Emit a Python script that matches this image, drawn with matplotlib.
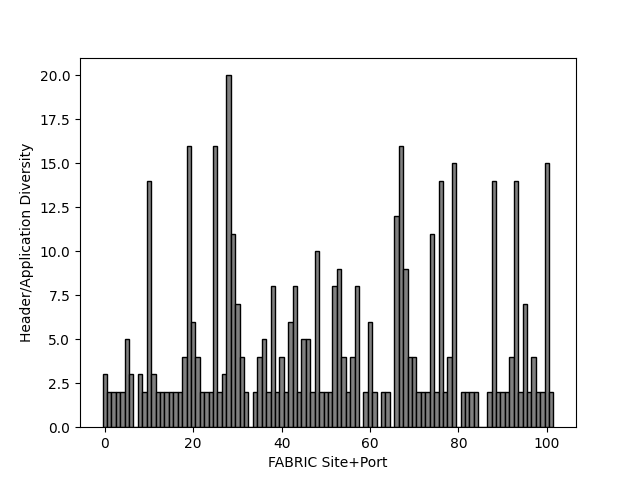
import matplotlib
matplotlib.use("Agg")
import matplotlib.pyplot as plt
import numpy as np

values = [3, 2, 2, 2, 2, 5, 3, 0, 3, 2,
          14, 3, 2, 2, 2, 2, 2, 2, 4, 16,
          6, 4, 2, 2, 2, 16, 2, 3, 20, 11,
          7, 4, 2, 0, 2, 4, 5, 2, 8, 2,
          4, 2, 6, 8, 2, 5, 5, 2, 10, 2,
          2, 2, 8, 9, 4, 2, 4, 8, 0, 2,
          6, 2, 0, 2, 2, 0, 12, 16, 9, 4,
          4, 2, 2, 2, 11, 2, 14, 2, 4, 15,
          0, 2, 2, 2, 2, 0, 0, 2, 14, 2,
          2, 2, 4, 14, 2, 7, 2, 4, 2, 2,
          15, 2]
sites = np.arange(len(values))

fig, ax = plt.subplots(figsize=(6.4, 4.8), dpi=100)
ax.bar(sites, values, width=1.0, color='grey', edgecolor='black')
ax.set_xlabel("FABRIC Site+Port")
ax.set_ylabel("Header/Application Diversity")
fig.savefig("out.png")
